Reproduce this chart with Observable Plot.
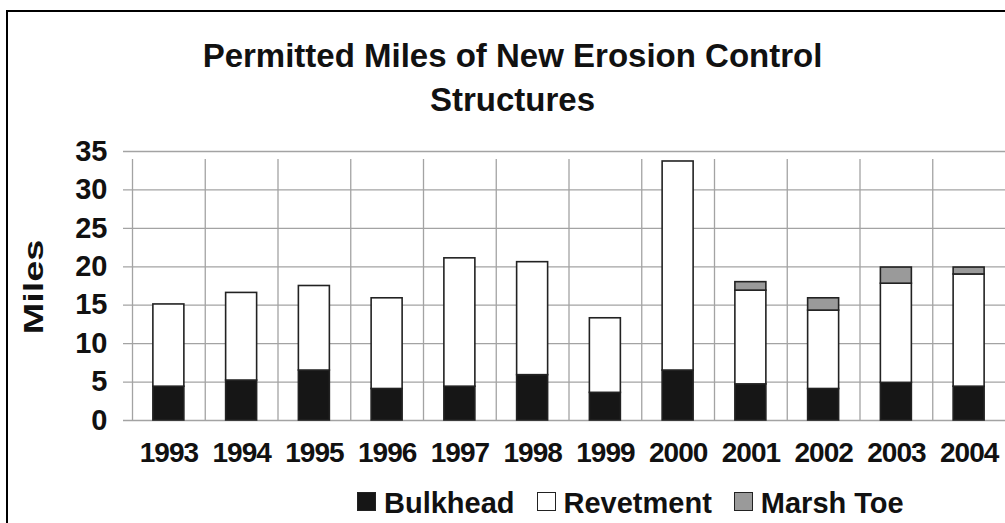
<!DOCTYPE html>
<html>
<head>
<meta charset="utf-8">
<script src="https://cdn.jsdelivr.net/npm/d3@7"></script>
<script src="https://cdn.jsdelivr.net/npm/@observablehq/plot@0.6"></script>
<style>
  html, body { margin: 0; padding: 0; background: #fff; width: 1005px; height: 523px; overflow: hidden; }
  body { position: relative; font-family: "Liberation Sans", Arial, sans-serif; font-weight: bold; color: #111; }
  #frame { position: absolute; left: 6px; top: 10px; width: 1100px; height: 600px; border-left: 2px solid #000; border-top: 2px solid #000; }
  #title { position: absolute; left: 0; width: 1025px; top: 34px; text-align: center; font-size: 33px; line-height: 44px; }
  #chart { position: absolute; left: 0; top: 120px; }
  #chart g[aria-label="x-axis tick label"] { letter-spacing: -1px; }
  #ylabel { position: absolute; left: 34px; top: 287px; font-size: 27px; line-height: 27px; white-space: nowrap; transform: translate(-50%, -50%) rotate(-90deg) scaleX(1.4); }
  #legend { position: absolute; left: 357px; top: 489px; display: flex; font-size: 29px; line-height: 29px; }
  .item { display: flex; align-items: center; margin-right: 22px; }
  .sw { width: 17px; height: 17px; border: 1.5px solid #222; margin-right: 8px; transform: translateY(-2px); }
</style>
</head>
<body>
<div id="frame"></div>
<div id="title">Permitted Miles of New Erosion Control<br>Structures</div>
<div id="chart"></div>
<div id="ylabel">Miles</div>
<div id="legend"></div>
<script>
const years = ["1993","1994","1995","1996","1997","1998","1999","2000","2001","2002","2003","2004"];
const bulkhead  = [4.4, 5.2, 6.5, 4.1, 4.4, 5.9, 3.6, 6.5, 4.7, 4.1, 4.9, 4.4];
const revetment = [10.7, 11.4, 11.0, 11.8, 16.7, 14.7, 9.7, 27.2, 12.2, 10.2, 12.9, 14.6];
const marshToe  = [0, 0, 0, 0, 0, 0, 0, 0, 1.1, 1.6, 2.1, 0.9];
const seriesNames = ["Bulkhead", "Revetment", "Marsh Toe"];
const seriesColors = ["#161616", "#ffffff", "#9a9a9a"];
const yTicks = [0, 5, 10, 15, 20, 25, 30, 35];

const seriesValues = [bulkhead, revetment, marshToe];
const rows = [];
years.forEach((yr, i) => {
  seriesNames.forEach((s, k) => {
    if (seriesValues[k][i] > 0) rows.push({year: yr, series: s, value: seriesValues[k][i]});
  });
});

const W = 1005, H = 340, mL = 132, mR = 0;
const step = (W - mL - mR) / years.length;
const grid = "#a3a3a3";

const chart = Plot.plot({
  width: W, height: H,
  marginLeft: mL, marginRight: mR, marginTop: 31, marginBottom: 40,
  style: {fontFamily: "'Liberation Sans', Arial, sans-serif", fontWeight: "bold", background: "transparent", color: "#111", overflow: "visible"},
  x: {domain: years, paddingInner: 0.574, paddingOuter: 0.287, round: false, axis: null, label: null},
  y: {domain: [0, 35], axis: null, label: null},
  color: {domain: seriesNames, range: seriesColors},
  marks: [
    Plot.ruleY(yTicks, {y: d => d, stroke: grid, strokeWidth: 1.3, insetLeft: -9}),
    Plot.ruleX(years, {x: d => d, y1: 0, y2: 35, dx: -step / 2, insetBottom: -8, stroke: grid, strokeWidth: 1.3}),
    Plot.barY(rows, Plot.stackY({x: "year", y: "value", fill: "series", stroke: "#222", strokeWidth: 1.6, order: seriesNames})),
    Plot.axisY(yTicks, {tickSize: 0, tickPadding: 25, fontSize: 29, label: null}),
    Plot.axisX({tickSize: 0, tickPadding: 22, fontSize: 28, label: null})
  ]
});
document.getElementById("chart").appendChild(chart);

const legend = document.getElementById("legend");
seriesNames.forEach((s, k) => {
  const item = document.createElement("div");
  item.className = "item";
  const sw = document.createElement("div");
  sw.className = "sw";
  sw.style.background = seriesColors[k];
  const t = document.createElement("span");
  t.textContent = s;
  item.appendChild(sw);
  item.appendChild(t);
  legend.appendChild(item);
});
</script>
</body>
</html>
